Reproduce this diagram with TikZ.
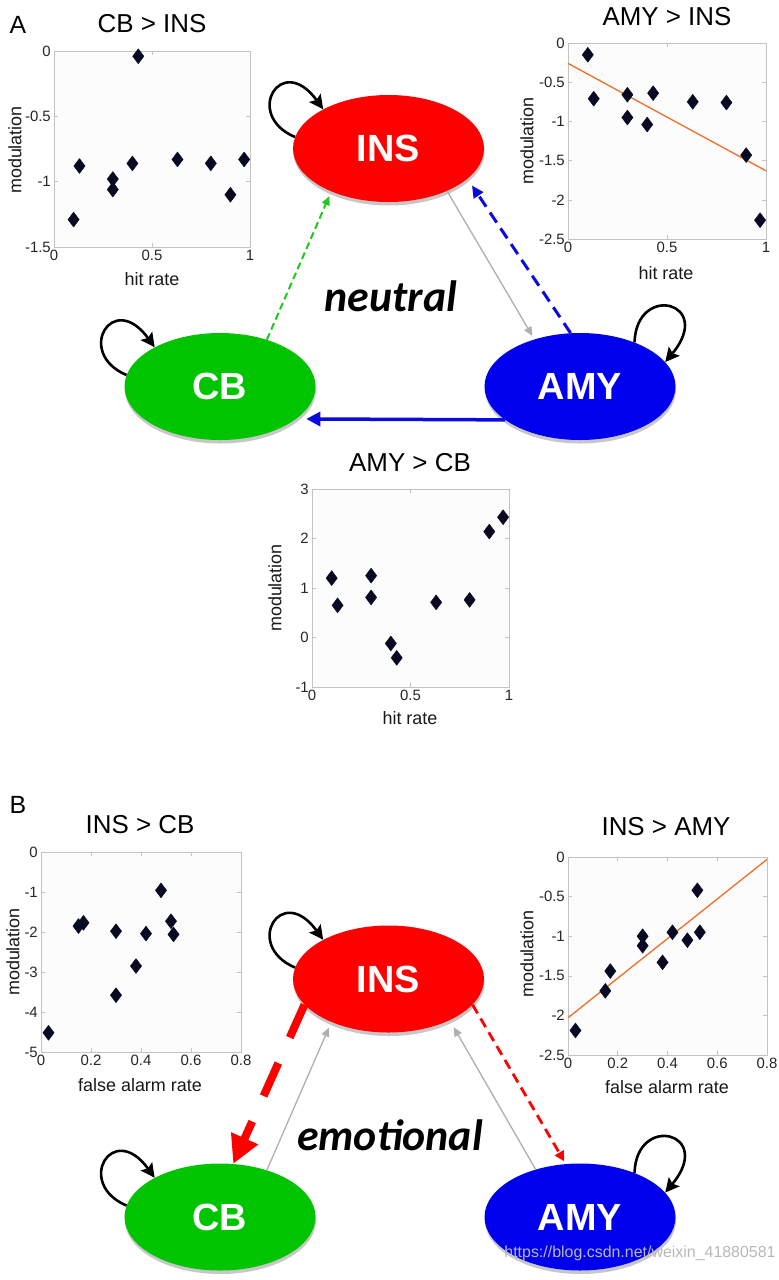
\documentclass[tikz,border=0pt]{standalone}
\usepackage{fontspec}
\setmainfont{Liberation Sans}
\newfontfamily\carlito{Carlito}
\usepackage{tikz}
\usetikzlibrary{arrows.meta}
\usetikzlibrary{shapes, shadows, plotmarks}
\definecolor{insred}{RGB}{255,0,0}
\definecolor{cbgreen}{RGB}{0,196,0}
\definecolor{amyblue}{RGB}{0,0,238}
\definecolor{dotnavy}{RGB}{8,10,35}
\definecolor{trendorange}{RGB}{240,110,40}
\definecolor{axgray}{RGB}{195,195,195}
\definecolor{arrgray}{RGB}{175,175,175}
\definecolor{dashgreen}{RGB}{30,200,30}
\definecolor{dashblue}{RGB}{10,10,225}

\begin{document}
\begin{tikzpicture}[x=1bp,y=-1bp,line join=bevel,
  region/.style={ellipse,inner sep=0pt,minimum width=191bp,minimum height=107bp,text=white,
    font=\fontsize{38}{38}\selectfont\bfseries,
    drop shadow={shadow xshift=0.5bp,shadow yshift=-3.5bp,opacity=1,fill=black!22}},
  axbox/.style={draw=axgray,line width=0.8bp,fill=gray!2},
  axtick/.style={draw=axgray,line width=0.6bp},
  ticklbl/.style={inner sep=3bp,text=black!85,font=\fontsize{15}{15}\selectfont},
  axlbl/.style={inner sep=0pt,text=black!90,font=\fontsize{18}{18}\selectfont},
  plottitle/.style={inner sep=0pt,font=\fontsize{26}{26}\selectfont},
  panellbl/.style={inner sep=0pt,font=\fontsize{25}{25}\selectfont},
  statelbl/.style={inner sep=0pt,font=\carlito\bfseries\itshape\fontsize{44}{44}\selectfont},
  datapts/.style={only marks,mark=diamond*,mark size=7.5bp,mark options={draw=dotnavy,fill=dotnavy}},
  trendline/.style={draw=trendorange,line width=1.3bp},
  selfarrow/.style={draw=black,line width=2.6bp,-{Stealth[length=14bp,width=14bp,inset=2.5bp]}},
  grayarr/.style={draw=arrgray,line width=1.3bp,-{Triangle[length=9bp,width=8bp]}},
  greendash/.style={draw=dashgreen,line width=2bp,dash pattern=on 7bp off 4bp,-{Triangle[length=9bp,width=8bp]}},
  bluedash/.style={draw=dashblue,line width=3bp,dash pattern=on 12bp off 7bp,-{Triangle[length=12bp,width=11bp]}},
  bluesolid/.style={draw=dashblue,line width=3.5bp,-{Triangle[length=14bp,width=14bp]}},
  redthick/.style={draw=insred,line width=8bp,dash pattern=on 36bp off 28bp,-{Triangle[length=28bp,width=28bp]}},
  redthin/.style={draw=insred,line width=2.8bp,dash pattern=on 10bp off 6bp,-{Triangle[length=10bp,width=10bp]}},
]
%%
\fill [white] (0,0) rectangle (779,1280);
\useasboundingbox (0,0) rectangle (779,1280);
%% panel A
\node (panelA) at (18,25) [panellbl] {A};
\node (cbinsT) at (152,24) [plottitle] {CB > INS};
\node (cbinsM) at (15,150) [axlbl,rotate=90] {modulation};
\node (cbinsH) at (152,279) [axlbl] {hit rate};
\begin{scope}[shift={(54,51)},x=196bp,y=130.67bp]
  \draw [axbox] (0,-1.5) rectangle (1,0);
  \foreach \tx [count=\i] in {0,0.5,1} {
    \draw [axtick] (\tx,-1.5) -- ++(0bp,4bp) (\tx,0) -- ++(0bp,-4bp);
    \node (cbinsX\i) at (\tx,-1.5) [ticklbl,anchor=north] {\tx};
  }
  \foreach \ty [count=\i] in {0,-0.5,-1,-1.5} {
    \draw [axtick] (0,\ty) -- ++(4bp,0bp) (1,\ty) -- ++(-4bp,0bp);
    \node (cbinsY\i) at (0,\ty) [ticklbl,anchor=east] {\ty};
  }
  \draw [datapts] plot coordinates {(0.1,-1.29) (0.13,-0.88) (0.3,-0.98) (0.3,-1.06) (0.4,-0.86)
    (0.43,-0.04) (0.63,-0.83) (0.8,-0.86) (0.9,-1.1) (0.97,-0.83)};
\end{scope}
%
\node (amyinsT) at (667,17) [plottitle] {AMY > INS};
\node (amyinsM) at (527,141) [axlbl,rotate=90] {modulation};
\node (amyinsH) at (666,273) [axlbl] {hit rate};
\begin{scope}[shift={(568,43)},x=198bp,y=78.4bp]
  \draw [axbox] (0,-2.5) rectangle (1,0);
  \foreach \tx [count=\i] in {0,0.5,1} {
    \draw [axtick] (\tx,-2.5) -- ++(0bp,4bp) (\tx,0) -- ++(0bp,-4bp);
    \node (amyinsX\i) at (\tx,-2.5) [ticklbl,anchor=north] {\tx};
  }
  \foreach \ty [count=\i] in {0,-0.5,-1,-1.5,-2,-2.5} {
    \draw [axtick] (0,\ty) -- ++(4bp,0bp) (1,\ty) -- ++(-4bp,0bp);
    \node (amyinsY\i) at (0,\ty) [ticklbl,anchor=east] {\ty};
  }
  \draw [trendline] (0,-0.26) -- (1,-1.63);
  \draw [datapts] plot coordinates {(0.1,-0.15) (0.13,-0.71) (0.3,-0.66) (0.3,-0.95) (0.4,-1.04)
    (0.43,-0.64) (0.63,-0.75) (0.8,-0.76) (0.9,-1.43) (0.97,-2.26)};
\end{scope}
%
\node (amycbT) at (410,463) [plottitle] {AMY > CB};
\node (amycbM) at (275,588) [axlbl,rotate=90] {modulation};
\node (amycbH) at (410,718) [axlbl] {hit rate};
\begin{scope}[shift={(312,637.5)},x=197bp,y=49.5bp]
  \draw [axbox] (0,-1) rectangle (1,3);
  \foreach \tx [count=\i] in {0,0.5,1} {
    \draw [axtick] (\tx,-1) -- ++(0bp,4bp) (\tx,3) -- ++(0bp,-4bp);
    \node (amycbX\i) at (\tx,-1) [ticklbl,anchor=north] {\tx};
  }
  \foreach \ty [count=\i] in {-1,0,1,2,3} {
    \draw [axtick] (0,\ty) -- ++(4bp,0bp) (1,\ty) -- ++(-4bp,0bp);
    \node (amycbY\i) at (0,\ty) [ticklbl,anchor=east] {\ty};
  }
  \draw [datapts] plot coordinates {(0.1,1.2) (0.13,0.65) (0.3,1.25) (0.3,0.81) (0.4,-0.12)
    (0.43,-0.41) (0.63,0.71) (0.8,0.76) (0.9,2.14) (0.97,2.43)};
\end{scope}
%
\node (insA) at (388.5,148.5) [region,fill=insred] {INS};
\node (cbA) at (220,386.5) [region,fill=cbgreen] {CB};
\node (amyA) at (580,386.5) [region,fill=amyblue] {AMY};
\node (neutral) at (391,296) [statelbl] {neutral};
\draw [selfarrow] (insA.173) .. controls +(-52,-22) and +(-42,-58) .. (insA.149);
\draw [selfarrow] (cbA.173) .. controls +(-52,-22) and +(-42,-58) .. (cbA.149);
\draw [selfarrow] (amyA.39) .. controls +(2,-60) and +(50,-60) .. (amyA.16);
\draw [greendash,shorten >=5bp] (cbA.45) -- (insA.217);
\draw [grayarr,shorten >=4bp] (insA.-36) -- (amyA.134);
\draw [bluedash,shorten >=8bp] (amyA.100) -- (insA.-21);
\draw [bluesolid,shorten >=10bp] (amyA.204) -- (cbA.-23);
%% panel B
\node (panelB) at (18,805) [panellbl] {B};
\node (inscbT) at (140,825) [plottitle] {INS > CB};
\node (inscbM) at (13,952) [axlbl,rotate=90] {modulation};
\node (inscbH) at (140,1085) [axlbl] {false alarm rate};
\begin{scope}[shift={(41,852)},x=250bp,y=40bp]
  \draw [axbox] (0,-5) rectangle (0.8,0);
  \foreach \tx [count=\i] in {0,0.2,0.4,0.6,0.8} {
    \draw [axtick] (\tx,-5) -- ++(0bp,4bp) (\tx,0) -- ++(0bp,-4bp);
    \node (inscbX\i) at (\tx,-5) [ticklbl,anchor=north] {\tx};
  }
  \foreach \ty [count=\i] in {0,-1,-2,-3,-4,-5} {
    \draw [axtick] (0,\ty) -- ++(4bp,0bp) (0.8,\ty) -- ++(-4bp,0bp);
    \node (inscbY\i) at (0,\ty) [ticklbl,anchor=east] {\ty};
  }
  \draw [datapts] plot coordinates {(0.03,-4.52) (0.15,-1.85) (0.17,-1.77) (0.3,-1.98) (0.3,-3.58)
    (0.38,-2.85) (0.42,-2.04) (0.48,-0.96) (0.52,-1.73) (0.53,-2.06)};
\end{scope}
%
\node (insamyT) at (666,827) [plottitle] {INS > AMY};
\node (insamyM) at (527,954) [axlbl,rotate=90] {modulation};
\node (insamyH) at (667,1087) [axlbl] {false alarm rate};
\begin{scope}[shift={(568,857)},x=248.75bp,y=79.2bp]
  \draw [axbox] (0,-2.5) rectangle (0.8,0);
  \foreach \tx [count=\i] in {0,0.2,0.4,0.6,0.8} {
    \draw [axtick] (\tx,-2.5) -- ++(0bp,4bp) (\tx,0) -- ++(0bp,-4bp);
    \node (insamyX\i) at (\tx,-2.5) [ticklbl,anchor=north] {\tx};
  }
  \foreach \ty [count=\i] in {0,-0.5,-1,-1.5,-2,-2.5} {
    \draw [axtick] (0,\ty) -- ++(4bp,0bp) (0.8,\ty) -- ++(-4bp,0bp);
    \node (insamyY\i) at (0,\ty) [ticklbl,anchor=east] {\ty};
  }
  \draw [trendline] (0,-2.03) -- (0.8,-0.03);
  \draw [datapts] plot coordinates {(0.03,-2.19) (0.15,-1.69) (0.17,-1.44) (0.3,-1.0) (0.3,-1.12)
    (0.38,-1.33) (0.42,-0.95) (0.48,-1.05) (0.52,-0.42) (0.53,-0.95)};
\end{scope}
%
\node (insB) at (388.5,979) [region,fill=insred] {INS};
\node (cbB) at (220,1217) [region,fill=cbgreen] {CB};
\node (amyB) at (580,1217) [region,fill=amyblue] {AMY};
\node (emotional) at (390,1135) [statelbl] {emotional};
\draw [selfarrow] (insB.173) .. controls +(-52,-22) and +(-42,-58) .. (insB.149);
\draw [selfarrow] (cbB.173) .. controls +(-52,-22) and +(-42,-58) .. (cbB.149);
\draw [selfarrow] (amyB.39) .. controls +(2,-60) and +(50,-60) .. (amyB.16);
\draw [redthick] (insB.197) -- (cbB.76);
\draw [grayarr,shorten >=6bp] (cbB.45) -- (insB.217);
\draw [grayarr,shorten >=8bp] (amyB.133) -- (insB.-34);
\draw [redthin,shorten >=3bp] (insB.-17) -- (amyB.105);
\node (wmark) at (640,1253) [inner sep=0pt,text=black!28,font=\fontsize{16}{16}\selectfont] {https://blog.csdn.net/weixin\_41880581};
%
\end{tikzpicture}
\end{document}
